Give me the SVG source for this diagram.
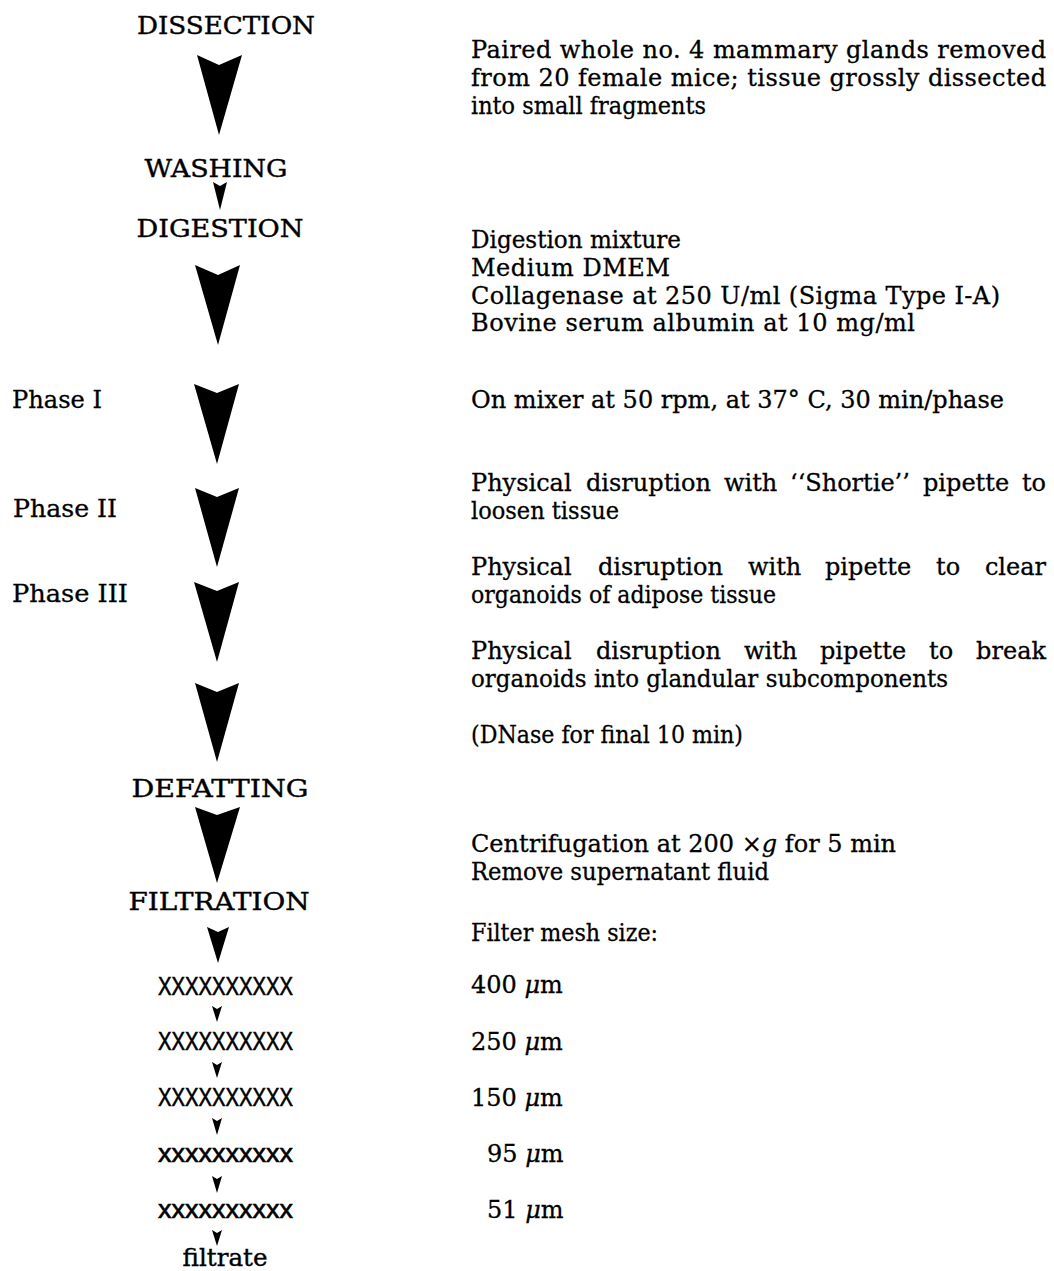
<svg xmlns="http://www.w3.org/2000/svg" width="1054" height="1271" viewBox="0 0 1054 1271">
<style>
.bg{fill:#fff}
.h{font-family:"DejaVu Serif","Liberation Serif",serif;font-size:25px;fill:#000;stroke:#000;stroke-width:0.4;text-anchor:middle}
.t{font-family:"DejaVu Serif","Liberation Serif",serif;font-size:24px;fill:#000;stroke:#000;stroke-width:0.3}
.x{font-family:"Liberation Sans","DejaVu Sans",sans-serif;font-size:25px;fill:#000;stroke:#000;stroke-width:0.6}
.xs{font-family:"Liberation Sans","DejaVu Sans",sans-serif;font-size:26px;fill:#000;stroke:#000;stroke-width:0.6}
.e{text-anchor:end}
.arrow{fill:#000;stroke:none}
</style>
<rect class="bg" width="1054" height="1271"/>
<g id="connectors">
<polygon class="arrow" points="197,55 219,65 242,55 219,135"/>
<polygon class="arrow" points="213,182 220,186 227,182 220,210"/>
<polygon class="arrow" points="195,265 218,275 240,265 218,345"/>
<polygon class="arrow" points="194,384 217,393 239,384 217,464"/>
<polygon class="arrow" points="195,488 217,497 239,488 217,567"/>
<polygon class="arrow" points="194,582 217,591 239,582 217,662"/>
<polygon class="arrow" points="195,683 217,692 239,683 217,762"/>
<polygon class="arrow" points="195,807 217,815 240,807 217,883"/>
<polygon class="arrow" points="207,927 218,932 229,927 218,963"/>
<polygon class="arrow" points="212,1006 217,1009 222,1006 217,1022"/>
<polygon class="arrow" points="212,1062 217,1065 222,1062 217,1078"/>
<polygon class="arrow" points="212,1118 217,1121 222,1118 217,1135"/>
<polygon class="arrow" points="212,1176 217,1179 222,1176 217,1193"/>
<polygon class="arrow" points="212,1230 217,1233 222,1230 217,1246"/>
</g>
<g id="dissection"><text class="h" x="226" y="34" textLength="178" lengthAdjust="spacingAndGlyphs">DISSECTION</text></g>
<g id="washing"><text class="h" x="216" y="177" textLength="143" lengthAdjust="spacingAndGlyphs">WASHING</text></g>
<g id="digestion"><text class="h" x="220" y="237" textLength="167" lengthAdjust="spacingAndGlyphs">DIGESTION</text></g>
<g id="defatting"><text class="h" x="220" y="797" textLength="177" lengthAdjust="spacingAndGlyphs">DEFATTING</text></g>
<g id="filtration"><text class="h" x="219" y="910" textLength="181" lengthAdjust="spacingAndGlyphs">FILTRATION</text></g>
<g id="phase1"><text class="t" x="12" y="408" textLength="90" lengthAdjust="spacingAndGlyphs">Phase I</text></g>
<g id="phase2"><text class="t" x="13" y="517" textLength="104" lengthAdjust="spacingAndGlyphs">Phase II</text></g>
<g id="phase3"><text class="t" x="12" y="602" textLength="116" lengthAdjust="spacingAndGlyphs">Phase III</text></g>
<g id="filters">
<text class="x" x="158" y="995" textLength="135" lengthAdjust="spacingAndGlyphs">XXXXXXXXXX</text>
<text class="x" x="158" y="1050" textLength="135" lengthAdjust="spacingAndGlyphs">XXXXXXXXXX</text>
<text class="x" x="158" y="1106" textLength="135" lengthAdjust="spacingAndGlyphs">XXXXXXXXXX</text>
<text class="xs" x="158" y="1162" textLength="135" lengthAdjust="spacingAndGlyphs">xxxxxxxxxx</text>
<text class="xs" x="158" y="1218" textLength="135" lengthAdjust="spacingAndGlyphs">xxxxxxxxxx</text>
</g>
<g id="filtrate"><text class="h" x="225" y="1266" textLength="85" lengthAdjust="spacingAndGlyphs">filtrate</text></g>
<g id="note-dissection">
<text class="t" x="471" y="58" textLength="575" lengthAdjust="spacing">Paired whole no. 4 mammary glands removed</text>
<text class="t" x="471" y="86" textLength="575" lengthAdjust="spacing">from 20 female mice; tissue grossly dissected</text>
<text class="t" x="471" y="114" textLength="235" lengthAdjust="spacingAndGlyphs">into small fragments</text>
</g>
<g id="note-digestion">
<text class="t" x="471" y="248" textLength="210" lengthAdjust="spacingAndGlyphs">Digestion mixture</text>
<text class="t" x="471" y="276" textLength="199" lengthAdjust="spacing">Medium DMEM</text>
<text class="t" x="471" y="304" textLength="529" lengthAdjust="spacing">Collagenase at 250 U/ml (Sigma Type I-A)</text>
<text class="t" x="471" y="331" textLength="444" lengthAdjust="spacing">Bovine serum albumin at 10 mg/ml</text>
</g>
<g id="note-phase1"><text class="t" x="471" y="408">On mixer at 50 rpm, at 37° C, 30 min/phase</text></g>
<g id="note-phase2">
<text class="t" y="491"><tspan x="471">Physical</tspan><tspan x="586">disruption</tspan><tspan x="724">with</tspan><tspan x="790">‘‘Shortie’’</tspan><tspan x="923">pipette</tspan><tspan x="1046" class="e">to</tspan></text>
<text class="t" x="471" y="519" textLength="148" lengthAdjust="spacingAndGlyphs">loosen tissue</text>
</g>
<g id="note-phase3">
<text class="t" y="575"><tspan x="471">Physical</tspan><tspan x="598">disruption</tspan><tspan x="748">with</tspan><tspan x="825">pipette</tspan><tspan x="936">to</tspan><tspan x="1046" class="e">clear</tspan></text>
<text class="t" x="471" y="603" textLength="305" lengthAdjust="spacingAndGlyphs">organoids of adipose tissue</text>
</g>
<g id="note-phase4">
<text class="t" y="659"><tspan x="471">Physical</tspan><tspan x="596">disruption</tspan><tspan x="744">with</tspan><tspan x="820">pipette</tspan><tspan x="929">to</tspan><tspan x="1046" class="e">break</tspan></text>
<text class="t" x="471" y="687" textLength="477" lengthAdjust="spacingAndGlyphs">organoids into glandular subcomponents</text>
<text class="t" x="471" y="743" textLength="272" lengthAdjust="spacingAndGlyphs">(DNase for final 10 min)</text>
</g>
<g id="note-defatting">
<text class="t" x="471" y="852">Centrifugation at 200 ×<tspan font-style="italic">g</tspan> for 5 min</text>
<text class="t" x="471" y="880" textLength="298" lengthAdjust="spacingAndGlyphs">Remove supernatant fluid</text>
</g>
<g id="note-filtration">
<text class="t" x="471" y="941" textLength="187" lengthAdjust="spacingAndGlyphs">Filter mesh size:</text>
<text class="t" x="471" y="993">400 <tspan font-style="italic">μ</tspan>m</text>
<text class="t" x="471" y="1050">250 <tspan font-style="italic">μ</tspan>m</text>
<text class="t" x="471" y="1106">150 <tspan font-style="italic">μ</tspan>m</text>
<text class="t" x="487" y="1162">95 <tspan font-style="italic">μ</tspan>m</text>
<text class="t" x="487" y="1218">51 <tspan font-style="italic">μ</tspan>m</text>
</g>
</svg>
